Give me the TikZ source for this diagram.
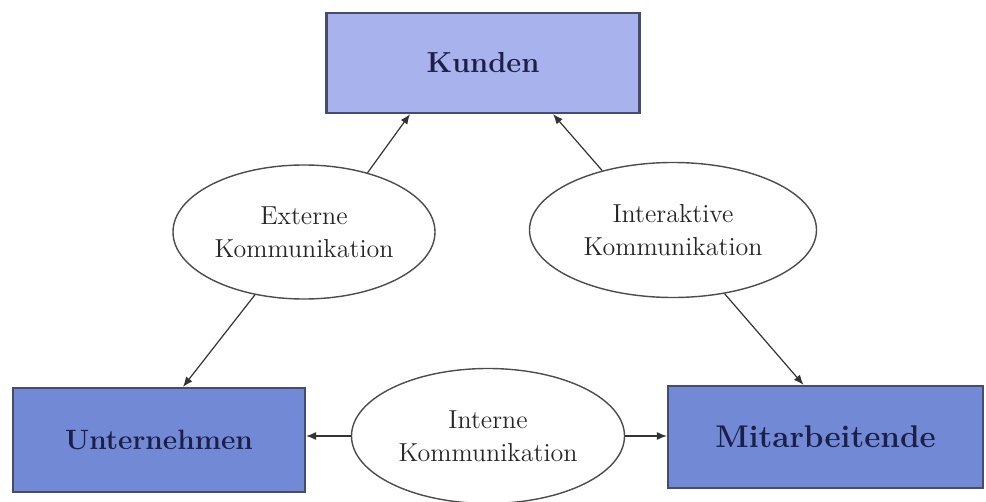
\documentclass[tikz,border=0pt]{standalone}
\usepackage{xcolor}
\usepackage{tikz}
\usetikzlibrary{shapes.geometric, arrows.meta}

\definecolor{kundenblau}{RGB}{168,178,236}
\definecolor{boxblau}{RGB}{114,138,214}
\definecolor{schrift}{RGB}{28,32,72}
\definecolor{rand}{RGB}{72,76,108}

\begin{document}
\begin{tikzpicture}[x=0.5pt, y=-0.5pt, >={Latex[length=5pt,width=4pt]},
    kasten/.style={draw=rand, line width=1.1pt, rectangle, text=schrift,
        font=\fontsize{14.5}{16}\selectfont\bfseries},
    blase/.style={draw=black!70, line width=0.7pt, ellipse, fill=white, inner sep=0pt,
        align=center, text=black!85, font=\fontsize{13}{16.5}\selectfont},
    pfeil/.style={->, draw=black!80, line width=0.6pt}]
       \useasboundingbox (0,0) rectangle (986,502);
       % Nodes
       \node[kasten, fill=kundenblau, minimum width=156.5pt, minimum height=50pt] (kunden) at (483,63) {Kunden};
       \node[kasten, fill=boxblau, minimum width=146pt, minimum height=52pt,
             font=\fontsize{14}{16}\selectfont\bfseries] (unternehmen) at (159,440) {Unternehmen};
       \node[kasten, fill=boxblau, minimum width=157.5pt, minimum height=51pt,
             font=\fontsize{15.7}{18}\selectfont\bfseries] (mitarbeitende) at (825.5,437) {Mitarbeitende};
       \node[blase, minimum width=131pt, minimum height=67pt] (extern) at (304,232) {Externe\\Kommunikation};
       \node[blase, minimum width=143.5pt, minimum height=67.5pt] (interaktiv) at (673,230) {Interaktive\\Kommunikation};
       \node[blase, minimum width=136.5pt, minimum height=67.5pt] (intern) at (488,436) {Interne\\Kommunikation};
       
       % Arrows
       \draw[pfeil] (extern.43) -- ([xshift=-36.5pt]kunden.south);
       \draw[pfeil] (extern.232) -- ([xshift=12pt]unternehmen.north);
       \draw[pfeil] (interaktiv.140) -- ([xshift=35pt]kunden.south);
       \draw[pfeil] (interaktiv.309) -- ([xshift=-11pt]mitarbeitende.north);
       \draw[pfeil] (intern.west) -- (intern.west -| unternehmen.east);
       \draw[pfeil] (intern.east) -- (intern.east -| mitarbeitende.west);
\end{tikzpicture}
\end{document}
